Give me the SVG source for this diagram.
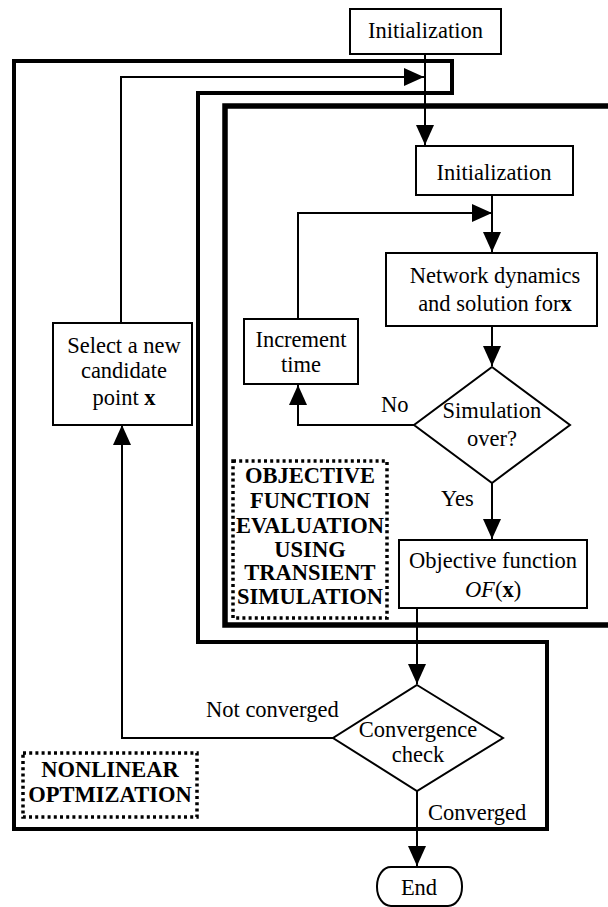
<svg xmlns="http://www.w3.org/2000/svg" width="608" height="907" viewBox="0 0 608 907">
  <defs>
    <marker id="arrow" markerUnits="userSpaceOnUse" markerWidth="20" markerHeight="18" refX="20" refY="9" orient="auto">
      <path d="M0,0 L20,9 L0,18 Z" fill="#000"/>
    </marker>
    <style>
      .box { fill: #fff; stroke: #000; stroke-width: 2; }
      .wire { fill: none; stroke: #000; stroke-width: 2; }
      .arr { marker-end: url(#arrow); }
      .frame-outer { fill: none; stroke: #000; stroke-width: 4; stroke-linejoin: miter; }
      .frame-inner { fill: none; stroke: #000; stroke-width: 5.5; stroke-linejoin: miter; }
      .dots { fill: #fff; stroke: #000; stroke-width: 3.5; stroke-dasharray: 3 3.2; }
      .c { text-anchor: middle; }
      .b { font-weight: bold; }
      .i { font-style: italic; }
    </style>
  </defs>

  <rect width="608" height="907" fill="#fff"/>

  <!-- region frames -->
  <g id="frame-nonlinear-optimization">
    <path class="frame-outer" d="M14,61 H452 V93 H198 V642 H547 V829 H14 Z"/>
  </g>
  <g id="frame-objective-evaluation">
    <path class="frame-inner" d="M612,106 H225 V625 H612"/>
  </g>

  <!-- connectors -->
  <g id="connectors">
    <path class="wire arr" d="M425,54 V145"/>
    <path class="wire arr" d="M121,323 V77 H424"/>
    <path class="wire arr" d="M492,195 V252"/>
    <path class="wire arr" d="M298,319 V213 H492"/>
    <path class="wire arr" d="M492,326 V366"/>
    <path class="wire arr" d="M414,425 H298 V385"/>
    <path class="wire arr" d="M492,483 V539"/>
    <path class="wire arr" d="M417,608 V684"/>
    <path class="wire arr" d="M333,738 H122 V425"/>
    <path class="wire arr" d="M417,791 V866"/>
  </g>

  <g font-family="'Liberation Serif', 'DejaVu Serif', serif" font-size="22.5" fill="#000">
    <!-- edge labels -->
    <g id="edge-labels">
      <text x="381" y="412">No</text>
      <text x="441" y="506">Yes</text>
      <text x="206" y="717">Not converged</text>
      <text x="428" y="820">Converged</text>
    </g>

    <g id="init-outer">
      <rect class="box" x="350" y="9" width="151" height="45"/>
      <text class="c" x="425.5" y="38">Initialization</text>
    </g>

    <g id="init-inner">
      <rect class="box" x="416" y="146" width="157" height="49"/>
      <text class="c" x="494" y="180">Initialization</text>
    </g>

    <g id="network-dynamics">
      <rect class="box" x="386" y="253" width="211" height="73"/>
      <text class="c" x="495" y="283">Network dynamics</text>
      <text class="c" x="495" y="311">and solution for<tspan class="b">x</tspan></text>
    </g>

    <g id="increment-time">
      <rect class="box" x="244" y="319" width="114" height="65"/>
      <text class="c" x="301" y="347">Increment</text>
      <text class="c" x="301" y="372">time</text>
    </g>

    <g id="simulation-over">
      <path class="box" d="M492,367 L570,425 L492,483 L414,425 Z"/>
      <text class="c" x="492" y="418">Simulation</text>
      <text class="c" x="492" y="446">over?</text>
    </g>

    <g id="objective-function">
      <rect class="box" x="399" y="540" width="188" height="68"/>
      <text class="c" x="493" y="568">Objective function</text>
      <text class="c" x="493" y="597"><tspan class="i">OF</tspan>(<tspan class="b">x</tspan>)</text>
    </g>

    <g id="label-objective-evaluation">
      <rect class="dots" x="233" y="461" width="154" height="157"/>
      <text class="c b" x="310" y="483">OBJECTIVE</text>
      <text class="c b" x="310" y="508">FUNCTION</text>
      <text class="c b" x="310" y="533">EVALUATION</text>
      <text class="c b" x="310" y="557">USING</text>
      <text class="c b" x="310" y="580">TRANSIENT</text>
      <text class="c b" x="310" y="604">SIMULATION</text>
    </g>

    <g id="select-candidate">
      <rect class="box" x="53" y="323" width="139" height="102"/>
      <text class="c" x="124" y="353">Select a new</text>
      <text class="c" x="124" y="378">candidate</text>
      <text class="c" x="124" y="405">point <tspan class="b">x</tspan></text>
    </g>

    <g id="convergence-check">
      <path class="box" d="M417,685 L503,738 L417,791 L333,738 Z"/>
      <text class="c" x="418" y="737">Convergence</text>
      <text class="c" x="418" y="762">check</text>
    </g>

    <g id="label-nonlinear-optimization">
      <rect class="dots" x="23" y="753" width="174" height="64"/>
      <text class="c b" x="110" y="777">NONLINEAR</text>
      <text class="c b" x="110" y="802">OPTMIZATION</text>
    </g>

    <g id="end">
      <rect class="box" x="377" y="867" width="85" height="39" rx="14" ry="19"/>
      <text class="c" x="419" y="895">End</text>
    </g>
  </g>
</svg>
